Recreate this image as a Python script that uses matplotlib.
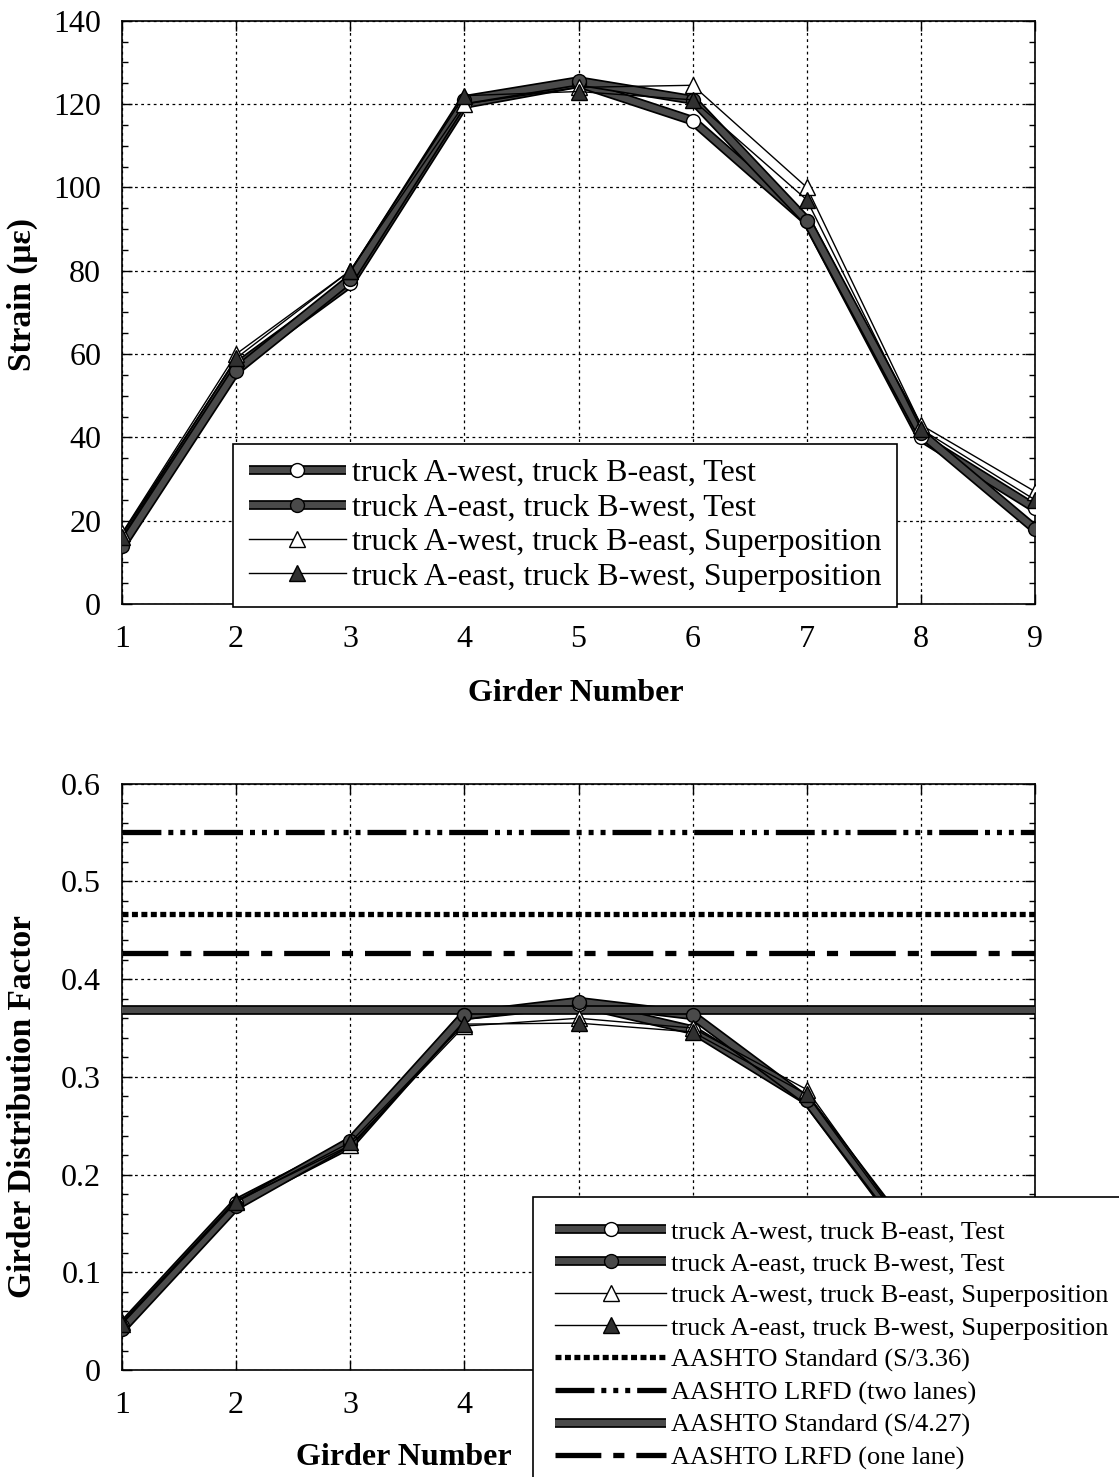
import matplotlib
matplotlib.use('Agg')
import matplotlib.pyplot as plt
from matplotlib.legend_handler import HandlerTuple
from matplotlib.ticker import MultipleLocator, FuncFormatter

plt.rcParams['font.family'] = ['Liberation Serif', 'DejaVu Serif']
plt.rcParams['lines.scale_dashes'] = False

girders = [1, 2, 3, 4, 5, 6, 7, 8, 9]

series_labels = ['truck A-west, truck B-east, Test',
                 'truck A-east, truck B-west, Test',
                 'truck A-west, truck B-east, Superposition',
                 'truck A-east, truck B-west, Superposition']

# strain (micro-strain) per girder
strain_aw_test = [15, 57, 77, 120, 125, 116, 92, 40, 23]
strain_ae_test = [14, 56, 78, 121, 125.5, 121, 92, 41, 18]
strain_aw_sup = [17, 60, 80, 120, 124, 124.5, 100, 43, 27]
strain_ae_sup = [16, 59, 80, 122, 123, 121, 97, 42, 25]

# girder distribution factors
gdf_aw_test = [0.045, 0.171, 0.231, 0.363, 0.375, 0.348, 0.276, 0.120, 0.069]
gdf_ae_test = [0.042, 0.168, 0.234, 0.363, 0.377, 0.363, 0.276, 0.123, 0.054]
gdf_aw_sup = [0.049, 0.173, 0.230, 0.352, 0.360, 0.350, 0.287, 0.124, 0.078]
gdf_ae_sup = [0.047, 0.172, 0.233, 0.354, 0.355, 0.346, 0.282, 0.123, 0.073]

aashto_labels = ['AASHTO Standard (S/3.36)', 'AASHTO LRFD (two lanes)',
                 'AASHTO Standard (S/4.27)', 'AASHTO LRFD (one lane)']
aashto_values = [0.467, 0.551, 0.368, 0.427]

GRAY = '#4a4a4a'

fig = plt.figure(figsize=(11.19, 14.77), dpi=100)
ax1 = fig.add_axes([0.109, 0.591, 0.816, 0.395])
ax2 = fig.add_axes([0.109, 0.0724, 0.816, 0.397])


def thick_line(ax, x, y):
    a, = ax.plot(x, y, color='black', lw=7, solid_joinstyle='round', solid_capstyle='butt', zorder=3)
    b, = ax.plot(x, y, color=GRAY, lw=4.5, solid_joinstyle='round', solid_capstyle='butt', zorder=3)
    return a, b


def draw_series(ax, ys):
    handles = []
    styles = [('o', 'white', True), ('o', GRAY, True), ('^', 'white', False), ('^', '#303030', False)]
    for y, (mk, face, thick) in zip(ys, styles):
        if thick:
            a, b = thick_line(ax, girders, y)
            m, = ax.plot(girders, y, ls='none', marker=mk, ms=10, mfc=face, mec='black', mew=1, zorder=4)
            handles.append((a, b, m))
        else:
            l, = ax.plot(girders, y, color='black', lw=1, marker=mk, ms=11, mfc=face, mec='black',
                         mew=1, zorder=5)
            handles.append(l)
    return handles


def style_axes(ax):
    ax.set_xlim(1, 9)
    ax.set_xticks(girders)
    ax.grid(True, which='major', color='black', ls=(0, (2, 2.5)), lw=0.9)
    ax.set_axisbelow(True)
    ax.tick_params(which='both', direction='in', left=True, right=True, top=True, bottom=True,
                   labelsize=23, width=1)
    ax.tick_params(which='major', length=7, pad=15)
    ax.tick_params(which='minor', length=4)
    for s in ax.spines.values():
        s.set_linewidth(1.2)


# ---- top: strain ----
h1 = draw_series(ax1, [strain_aw_test, strain_ae_test, strain_aw_sup, strain_ae_sup])
style_axes(ax1)
ax1.set_ylim(0, 140)
ax1.yaxis.set_major_locator(MultipleLocator(20))
ax1.yaxis.set_minor_locator(MultipleLocator(5))
ax1.set_ylabel('Strain (\u03bc\u03b5)', fontsize=24, fontweight='bold')
ax1.yaxis.set_label_coords(-0.092, 0.53)
ax1.set_xlabel('Girder Number', fontsize=23, fontweight='bold')
ax1.xaxis.set_label_coords(0.497, -0.128)
leg1 = ax1.legend(h1, series_labels, handler_map={tuple: HandlerTuple(ndivide=1, pad=0)},
                  loc='lower right', bbox_to_anchor=(0.849, -0.005), borderaxespad=0,
                  fontsize=23, handlelength=3.05, handletextpad=0.2, labelspacing=0.16,
                  fancybox=False, framealpha=1, edgecolor='black', borderpad=0.48)
leg1.get_frame().set_linewidth(1.2)

# ---- bottom: girder distribution factor ----
h2 = draw_series(ax2, [gdf_aw_test, gdf_ae_test, gdf_aw_sup, gdf_ae_sup])
dash_styles = [(0, (4.3, 2.5)), (0, (28, 5, 3.6, 5, 3.6, 5, 3.6, 5)), '-', (0, (33, 8.6, 8, 8.6))]
for val, ls in zip(aashto_values, dash_styles):
    if ls == '-':
        a = ax2.axhline(val, color='black', lw=7, solid_capstyle='butt', zorder=3)
        b = ax2.axhline(val, color=GRAY, lw=4.5, solid_capstyle='butt', zorder=3)
        h2.append((a, b))
    else:
        l = ax2.axhline(val, color='black', lw=3.8, ls=ls, dash_capstyle='butt', zorder=3)
        h2.append(l)
style_axes(ax2)
ax2.set_ylim(0, 0.6)
ax2.yaxis.set_major_locator(MultipleLocator(0.1))
ax2.yaxis.set_minor_locator(MultipleLocator(0.02))
ax2.yaxis.set_major_formatter(FuncFormatter(lambda v, p: '%g' % round(v, 2)))
ax2.set_ylabel('Girder Distribution Factor', fontsize=24, fontweight='bold')
ax2.yaxis.set_label_coords(-0.092, 0.45)
ax2.set_xlabel('Girder Number', fontsize=23, fontweight='bold')
ax2.xaxis.set_label_coords(0.309, -0.125)
leg2 = ax2.legend(h2, series_labels + aashto_labels, handler_map={tuple: HandlerTuple(ndivide=1, pad=0)},
                  loc='upper left', bbox_to_anchor=(0.45, 0.295), borderaxespad=0,
                  fontsize=19, handlelength=4.2, handletextpad=0.2, labelspacing=0.33,
                  fancybox=False, framealpha=1, edgecolor='black', borderpad=0.85)
leg2.get_frame().set_linewidth(1.2)

# x tick labels 5-9 of the lower chart sit under the legend
fig.canvas.draw()
for t in ax2.get_xticklabels():
    if t.get_text() in ['5', '6', '7', '8', '9']:
        t.set_visible(False)

fig.savefig('out.png', dpi=100)
